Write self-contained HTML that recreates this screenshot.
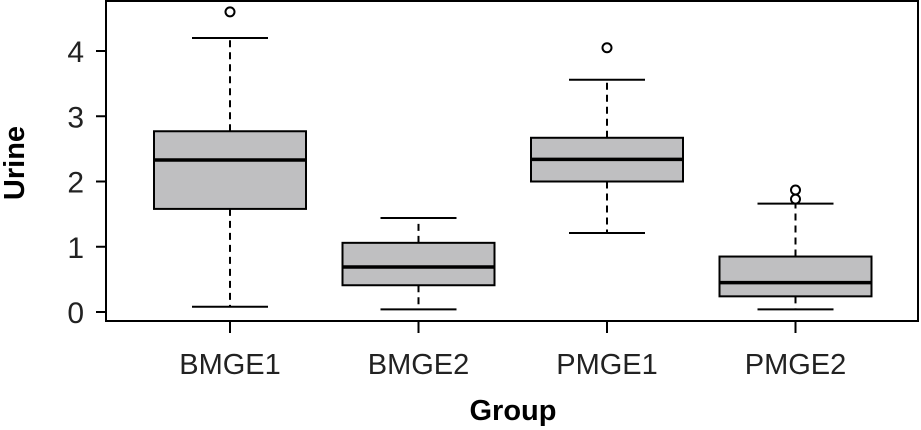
<!DOCTYPE html>
<html><head><meta charset="utf-8"><style>
body{margin:0;background:#fff;}
svg{display:block;font-family:"Liberation Sans",sans-serif;}
</style></head><body>
<svg id="chart" width="921" height="430">
<rect x="106" y="1" width="812" height="320" fill="none" stroke="#000" stroke-width="2"/>
<g id="g"></g>
<text x="24" y="163" transform="rotate(-90 24 163)" text-anchor="middle" font-size="29" font-weight="bold">Urine</text>
<text x="513" y="420" text-anchor="middle" font-size="29" font-weight="bold">Group</text>
</svg>
<script>
const categories=["BMGE1","BMGE2","PMGE1","PMGE2"];
const whiskerLow=[0.08,0.04,1.21,0.04];
const q1=[1.58,0.41,2.0,0.24];
const median=[2.33,0.69,2.34,0.45];
const q3=[2.77,1.06,2.67,0.85];
const whiskerHigh=[4.2,1.44,3.56,1.66];
const outliers=[[4.6],[],[4.05],[1.87,1.73]];
const yTicks=[0,1,2,3,4];
const NS="http://www.w3.org/2000/svg";
const g=document.getElementById('g');
function y(v){return 312-v*65.25;}
function x(i){return 230+i*188.5;}
function el(t,a){const e=document.createElementNS(NS,t);for(const k in a)e.setAttribute(k,a[k]);g.appendChild(e);return e;}
yTicks.forEach(t=>{
 const l=el('line',{x1:96,x2:106,y1:y(t),y2:y(t),stroke:'#000','stroke-width':2});
 
 
 const tx=el('text',{x:84,y:y(t)+11,'text-anchor':'end','font-size':30,fill:'#222'});
 tx.textContent=t;
 
 
});
categories.forEach((c,i)=>{
 const cx=x(i),hw=76,cw=38;
 const t=el('line',{x1:cx,x2:cx,y1:321,y2:333,stroke:'#000','stroke-width':2});
 
 
 const lb=el('text',{x:cx,y:374,'text-anchor':'middle','font-size':29,fill:'#222'});
 lb.textContent=c;
 
 
 const w1=el('line',{x1:cx,x2:cx,y1:y(q3[i]),y2:y(whiskerHigh[i]),stroke:'#000','stroke-width':2,'stroke-dasharray':'7,5'});
 
 
 const w2=el('line',{x1:cx,x2:cx,y1:y(q1[i]),y2:y(whiskerLow[i]),stroke:'#000','stroke-width':2,'stroke-dasharray':'7,5'});
 
 
 [whiskerHigh[i],whiskerLow[i]].forEach(v=>{
  const cp=el('line',{x1:cx-cw,x2:cx+cw,y1:y(v),y2:y(v),stroke:'#000','stroke-width':2});
  
  
 });
 const b=el('rect',{x:cx-hw,y:y(q3[i]),width:2*hw,height:y(q1[i])-y(q3[i]),fill:'#bfbfc1',stroke:'#000','stroke-width':2});
 
 
 const m=el('line',{x1:cx-hw,x2:cx+hw,y1:y(median[i]),y2:y(median[i]),stroke:'#000','stroke-width':3.5});
 
 
 outliers[i].forEach(v=>{
  const o=el('circle',{cx:cx,cy:y(v),r:4.5,fill:'#fff',stroke:'#000','stroke-width':2});
  
  
 });
});
</script>
</body></html>
